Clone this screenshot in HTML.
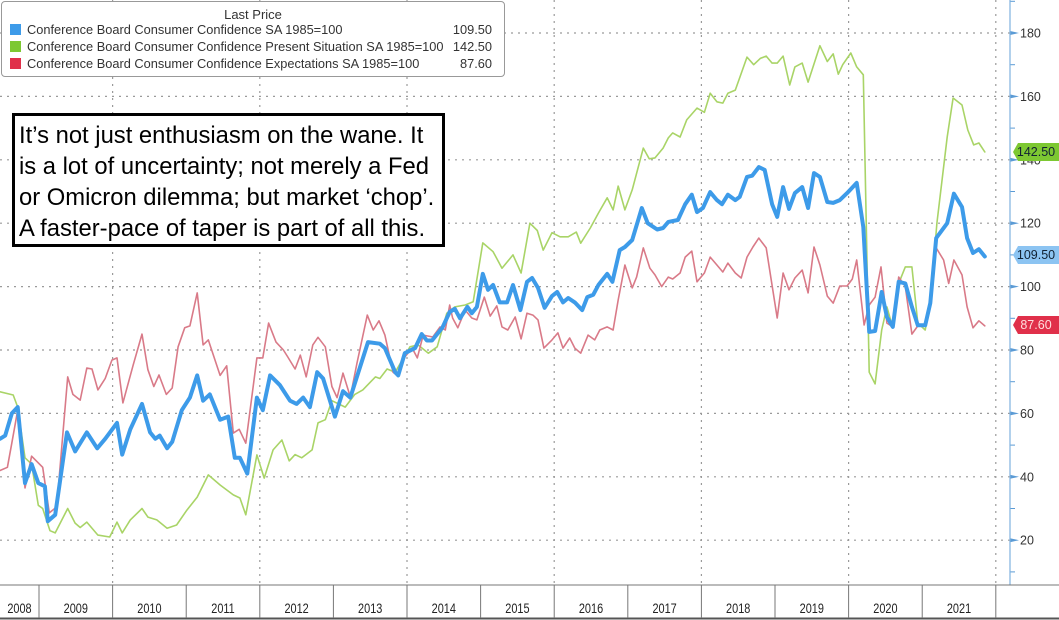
<!DOCTYPE html>
<html><head><meta charset="utf-8"><style>
html,body{margin:0;padding:0;background:#fff;}
body{width:1059px;height:620px;overflow:hidden;position:relative;font-family:"Liberation Sans",sans-serif;}
svg{position:absolute;left:0;top:0;}
#legend{position:absolute;left:1px;top:1px;width:502px;height:74px;border:1px solid #999;border-radius:4px;background:#fff;font-size:12.8px;color:#333;}
#legend .t{position:absolute;left:0;width:100%;top:5px;text-align:center;font-size:13px;}
#legend .row{position:absolute;left:8px;width:488px;height:16px;}
#legend .sw{position:absolute;left:0;top:2px;width:11px;height:11px;}
#legend .lbl{position:absolute;left:17px;top:0;}
#legend .val{position:absolute;right:6px;top:0;}
#note{position:absolute;left:12px;top:113px;width:433px;height:134px;border:3px solid #000;background:#fff;font-size:23.8px;line-height:31px;padding:4px 0 0 4px;box-sizing:border-box;color:#000;white-space:nowrap;}
.tag{position:absolute;left:1013px;width:46px;height:18px;font-size:12.5px;line-height:18px;text-align:center;}
</style></head><body>
<svg id="chart" width="1059" height="620"></svg>
<div id="legend">
 <div class="t">Last Price</div>
 <div class="row" style="top:20px"><div class="sw" style="background:#3d9be9"></div><span class="lbl">Conference Board Consumer Confidence SA 1985=100</span><span class="val">109.50</span></div>
 <div class="row" style="top:37px"><div class="sw" style="background:#7dc832"></div><span class="lbl">Conference Board Consumer Confidence Present Situation SA 1985=100</span><span class="val">142.50</span></div>
 <div class="row" style="top:54px"><div class="sw" style="background:#e0304a"></div><span class="lbl">Conference Board Consumer Confidence Expectations SA 1985=100</span><span class="val">87.60</span></div>
</div>
<div id="note">It’s not just enthusiasm on the wane. It<br>is a lot of uncertainty; not merely a Fed<br>or Omicron dilemma; but market ‘chop’.<br>A faster-pace of taper is part of all this.</div>
<div class="tag" style="top:143px;background:#7dc832;color:#123;clip-path:polygon(5px 0,100% 0,100% 100%,5px 100%,0 50%)">142.50</div>
<div class="tag" style="top:246px;background:#8cc4f2;color:#123;clip-path:polygon(5px 0,100% 0,100% 100%,5px 100%,0 50%)">109.50</div>
<div class="tag" style="top:316px;background:#e0304a;color:#fdd;clip-path:polygon(5px 0,100% 0,100% 100%,5px 100%,0 50%)">87.60</div>
<script>
const yTicks=[20,40,60,80,100,120,140,160,180];
const years=[2008,2009,2010,2011,2012,2013,2014,2015,2016,2017,2018,2019,2020,2021];
const totalDates=[2008.47,2008.54,2008.63,2008.71,2008.81,2008.90,2008.99,2009.08,2009.12,2009.22,2009.38,2009.49,2009.65,2009.79,2009.90,2010.06,2010.13,2010.24,2010.40,2010.51,2010.58,2010.64,2010.74,2010.81,2010.94,2011.05,2011.15,2011.23,2011.32,2011.46,2011.57,2011.66,2011.73,2011.83,2011.96,2012.04,2012.14,2012.27,2012.41,2012.50,2012.59,2012.68,2012.78,2012.86,2013.02,2013.13,2013.23,2013.47,2013.63,2013.70,2013.84,2013.88,2013.97,2014.11,2014.20,2014.27,2014.34,2014.48,2014.58,2014.65,2014.72,2014.82,2014.88,2014.95,2015.03,2015.10,2015.17,2015.26,2015.36,2015.44,2015.54,2015.63,2015.70,2015.78,2015.87,2015.97,2016.04,2016.12,2016.19,2016.28,2016.38,2016.45,2016.53,2016.60,2016.72,2016.79,2016.89,2016.96,2017.06,2017.19,2017.27,2017.40,2017.48,2017.55,2017.68,2017.78,2017.87,2017.94,2018.02,2018.12,2018.21,2018.28,2018.36,2018.46,2018.52,2018.62,2018.69,2018.78,2018.86,2018.96,2019.03,2019.11,2019.19,2019.27,2019.37,2019.45,2019.53,2019.61,2019.71,2019.79,2019.88,2019.98,2020.11,2020.20,2020.28,2020.36,2020.45,2020.52,2020.60,2020.68,2020.77,2020.86,2020.94,2021.04,2021.11,2021.19,2021.34,2021.43,2021.54,2021.61,2021.69,2021.77,2021.85];
const totalValues=[52,53,60,62,38,44,38,37,26,28,54,48,54,49,52,57,47,55,63,54,52,53,49,51,61,65,72,64,66,58,59,46,46,41,65,61,72,69,64,63,65,62,73,71,59,67,65,82.5,82,80.6,73,72,79,80.6,85,83,83,87,92,93,90,93.6,91.6,93.6,104,99,100.5,95,95,100.5,92.6,101.5,102.7,99.6,93.3,97,98.3,95,96.4,95,92.6,96.7,97.4,100.5,104,101.5,111.5,112.5,114.7,124.8,120,118,118.5,120.4,121,126,129,123.5,124.8,129.8,127.3,126,129,127.3,128.3,134.6,135,137.7,136.8,126,122,131.4,124.5,129.5,131.4,124.8,135.8,134.6,126.7,126.4,127.3,129.5,132.7,118.8,85.7,86,98.3,90.4,87.3,101.5,101,93.6,87.8,87.8,94.8,115.3,120,129.3,125.1,115.3,110.6,111.8,109.5];
const presentDates=[2008.47,2008.65,2008.71,2008.81,2008.90,2008.99,2009.05,2009.15,2009.22,2009.39,2009.49,2009.56,2009.65,2009.80,2009.96,2010.06,2010.13,2010.24,2010.40,2010.48,2010.60,2010.74,2010.87,2011.01,2011.15,2011.30,2011.46,2011.64,2011.73,2011.81,2011.96,2012.06,2012.18,2012.30,2012.40,2012.48,2012.57,2012.71,2012.79,2012.89,2012.98,2013.16,2013.29,2013.40,2013.57,2013.63,2013.73,2013.84,2014.04,2014.15,2014.29,2014.41,2014.54,2014.65,2014.79,2014.90,2015.03,2015.17,2015.29,2015.44,2015.55,2015.67,2015.77,2015.85,2015.97,2016.08,2016.19,2016.30,2016.36,2016.49,2016.60,2016.72,2016.80,2016.87,2016.96,2017.06,2017.21,2017.29,2017.37,2017.48,2017.55,2017.61,2017.71,2017.80,2017.94,2018.04,2018.12,2018.21,2018.29,2018.36,2018.46,2018.62,2018.71,2018.80,2018.88,2018.96,2019.03,2019.11,2019.20,2019.27,2019.37,2019.45,2019.61,2019.71,2019.79,2019.86,2019.92,2020.03,2020.11,2020.20,2020.28,2020.36,2020.45,2020.52,2020.60,2020.68,2020.77,2020.86,2020.94,2021.04,2021.11,2021.20,2021.34,2021.42,2021.54,2021.62,2021.70,2021.77,2021.85];
const presentValues=[66.8,65.8,62,46,44,31,30,23,22.3,30,25.4,24,25.7,21.6,21,25.7,22.3,26.4,30,27.3,26.4,23.8,24.8,29.5,33.6,40.6,37.4,34.3,33.3,28,46.9,39.6,48.5,51.6,45,47,46,48.5,57,58,64,62,66,67.4,71.5,71,74,73,81,81.6,79,81,91.6,93.6,94.2,95.2,113.8,111,105.8,110,104.3,120,117.7,111.5,117,115.7,115.7,117.2,113.7,118.5,123.2,128,124.2,131.7,124.2,130.5,143.7,140.3,140.6,143.7,146.9,148.5,147.2,152.6,156.3,155,161,158.3,157.9,161,162,172.4,170,172,172.7,170.5,170.5,172.7,163.6,169.3,170.5,164.5,176,171,173.4,167,170,173.7,169.3,166.8,73,69.3,86.3,93.6,87,101,106.2,106.2,88.5,86.3,94.8,120,147.2,159.5,157.3,149.4,144.7,145.3,142.5];
const expectDates=[2008.47,2008.57,2008.63,2008.71,2008.81,2008.90,2009.05,2009.14,2009.24,2009.39,2009.46,2009.56,2009.65,2009.72,2009.80,2009.90,2009.99,2010.06,2010.14,2010.28,2010.40,2010.48,2010.56,2010.63,2010.73,2010.81,2010.89,2010.98,2011.05,2011.15,2011.23,2011.30,2011.46,2011.55,2011.64,2011.72,2011.81,2011.96,2012.04,2012.12,2012.22,2012.32,2012.38,2012.48,2012.55,2012.63,2012.72,2012.79,2012.89,2012.98,2013.05,2013.13,2013.23,2013.32,2013.46,2013.54,2013.62,2013.70,2013.81,2013.88,2013.97,2014.07,2014.14,2014.22,2014.35,2014.45,2014.52,2014.58,2014.62,2014.69,2014.79,2014.88,2014.95,2015.05,2015.13,2015.22,2015.29,2015.37,2015.47,2015.55,2015.63,2015.71,2015.78,2015.86,2015.97,2016.05,2016.12,2016.21,2016.28,2016.36,2016.46,2016.55,2016.62,2016.72,2016.80,2016.87,2016.96,2017.06,2017.12,2017.21,2017.30,2017.37,2017.46,2017.55,2017.61,2017.71,2017.78,2017.87,2017.94,2018.04,2018.12,2018.21,2018.29,2018.36,2018.46,2018.54,2018.62,2018.70,2018.78,2018.88,2019.03,2019.11,2019.19,2019.27,2019.37,2019.45,2019.53,2019.61,2019.71,2019.79,2019.88,2019.98,2020.05,2020.11,2020.21,2020.28,2020.36,2020.44,2020.52,2020.60,2020.68,2020.77,2020.86,2020.94,2021.04,2021.11,2021.19,2021.29,2021.36,2021.43,2021.54,2021.61,2021.69,2021.77,2021.85];
const expectValues=[42,43,50.6,61,36.5,46.5,43,28.6,30.5,71.5,66,64.2,74.3,74,67.4,71,76.8,77.5,63.3,75.3,85,73.8,68.5,72.1,66,68,81,87,87.6,98,81.6,83.2,72,75,53.8,55,50.6,77.5,77.5,88.5,82.5,80,77.8,74,78.4,71.5,81.6,84,81,68.5,65,72.7,65.2,75.9,91,86.3,89.2,84.7,73,71.8,77.8,80.6,77.5,84.7,84.1,87.3,86.3,94.2,90.1,87,92.6,90.1,89.5,96.7,90.7,93.9,87.3,86.3,90.4,83.5,91.6,91,89.5,80.6,83.2,85.4,80.6,83.8,80.6,79,84.7,83.2,86.3,87.3,86.3,95.8,106.8,99.6,103,112.2,105.8,103.7,100,103,102.4,104.3,109.3,111.2,101.5,104.3,109.3,106.8,104.6,107.4,104.3,102.7,109.3,112.5,115.3,112.2,90.1,104.3,99,102.7,105.2,98,112.5,106.8,97,94.8,100.2,100.2,102.4,108.4,87.9,94.2,96.7,106.2,88.5,87.3,103,100,85,87.6,87.9,95.8,112.2,108.4,101,108.4,103.7,93.6,87,89.2,87.6];

const NS='http://www.w3.org/2000/svg';
const svg=document.getElementById('chart');
const X0=2008.47, PX_PER_YEAR=73.6, AX=1010, PLOT_BOTTOM=585;
function xOf(t){return (t-X0)*PX_PER_YEAR;}
function yOf(v){return 33+(180-v)*3.17;}
function mk(tag,attrs){const e=document.createElementNS(NS,tag);for(const k in attrs)e.setAttribute(k,attrs[k]);svg.appendChild(e);return e;}

yTicks.forEach(v=>{
  const g=mk('line',{x1:0,x2:AX,y1:yOf(v),y2:yOf(v),stroke:'#9a9a9a','stroke-width':1.2,'stroke-dasharray':'2,5'});
  
  
  const tk=mk('path',{d:`M${AX} ${yOf(v)-2} L${AX+9} ${yOf(v)} L${AX} ${yOf(v)+2}Z`,fill:'#5b9bd5'});
  
  
  const t=mk('text',{x:1020,y:yOf(v)+4.5,'font-size':12.5,fill:'#333','font-family':'Liberation Sans, sans-serif'});
  t.textContent=v;
  
  
});
for(let v=10;v<=190;v+=20){
  const m=mk('line',{x1:AX,x2:AX+5,y1:yOf(v),y2:yOf(v),stroke:'#5b9bd5','stroke-width':1});
  
  
}
for(let yr=2010;yr<=2022;yr+=2){
  const g=mk('line',{x1:xOf(yr),x2:xOf(yr),y1:0,y2:PLOT_BOTTOM,stroke:'#9a9a9a','stroke-width':1.2,'stroke-dasharray':'2,5'});
  
  
}
const ax=mk('line',{x1:AX,x2:AX,y1:0,y2:PLOT_BOTTOM,stroke:'#7fb2e0','stroke-width':1.2});


const xb=mk('line',{x1:0,x2:1059,y1:PLOT_BOTTOM,y2:PLOT_BOTTOM,stroke:'#777','stroke-width':1});


const xb2=mk('line',{x1:0,x2:1059,y1:618.5,y2:618.5,stroke:'#555','stroke-width':2});


years.forEach(yr=>{
  const x1=Math.max(0,xOf(yr)), x2=Math.min(xOf(yr+1),xOf(2022));
  if(yr>2008){
    const s=mk('line',{x1:xOf(yr),x2:xOf(yr),y1:PLOT_BOTTOM,y2:618,stroke:'#777','stroke-width':1});
    
    
  }
  const cx=(x1+x2)/2;
  const t=mk('text',{x:cx,y:613,'font-size':14,'text-anchor':'middle',fill:'#222','font-family':'Liberation Sans, sans-serif',transform:`translate(${cx} 0) scale(0.78 1) translate(${-cx} 0)`});
  t.textContent=yr;
  
  
});
const endSep=mk('line',{x1:xOf(2022),x2:xOf(2022),y1:PLOT_BOTTOM,y2:618,stroke:'#777','stroke-width':1});



function series(dates,vals,color,w,name){
  const d=dates.map((t,i)=>(i?'L':'M')+xOf(t).toFixed(1)+' '+yOf(vals[i]).toFixed(1)).join(' ');
  const p=mk('path',{d:d,fill:'none',stroke:color,'stroke-width':w,'stroke-linejoin':'round','stroke-linecap':'round'});
  
  
}
series(presentDates,presentValues,'#a9d467',1.6,'present-situation-line');
series(expectDates,expectValues,'#d97a88',1.6,'expectations-line');
series(totalDates,totalValues,'#3d9be9',4,'consumer-confidence-line');
</script>
</body></html>
